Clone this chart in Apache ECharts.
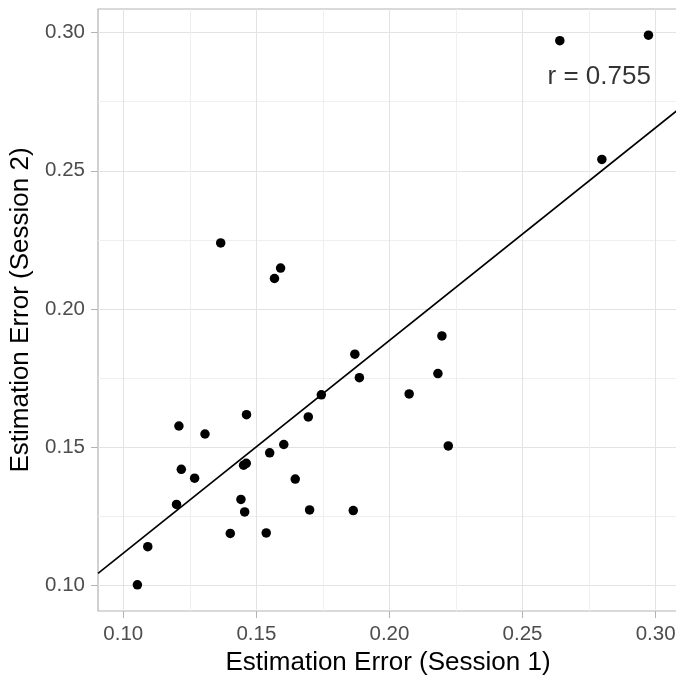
<!DOCTYPE html>
<html>
<head>
<meta charset="utf-8">
<script src="https://cdn.jsdelivr.net/npm/echarts@6/dist/echarts.min.js"></script>
<style>
html,body{margin:0;padding:0;background:#fff;}
#chart{width:676px;height:677px;}
</style>
</head>
<body>
<div id="chart"></div>
<script>
// Session 1 (x) and Session 2 (y) estimation errors
const session1 = [0.1053,0.1092,0.1200,0.1209,0.1218,0.1268,0.1307,0.1366,0.1402,0.1442,0.1456,0.1452,0.1462,0.1463,0.1537,0.1550,0.1568,0.1591,0.1603,0.1646,0.1695,0.1700,0.1744,0.1864,0.1870,0.1887,0.2074,0.2182,0.2197,0.2221,0.2640,0.2798,0.2973];
const session2 = [0.1001,0.1139,0.1292,0.1576,0.1419,0.1387,0.1547,0.2239,0.1187,0.1310,0.1265,0.1434,0.1441,0.1617,0.1189,0.1479,0.2110,0.2148,0.1509,0.1384,0.1609,0.1272,0.1689,0.1270,0.1836,0.1751,0.1692,0.1766,0.1902,0.1504,0.2971,0.2541,0.2991];
// fitted regression line
const fitIntercept = 0.03454;
const fitSlope = 0.7702;
const rLabel = 'r = 0.755';
const rLabelPos = [0.2788, 0.2840];
// axis ranges and ticks
const xRange = [0.0905, 0.3084];
const yRange = [0.09062, 0.30858];
const xTicks = [0.10, 0.15, 0.20, 0.25, 0.30];
const xMinor = [0.125, 0.175, 0.225, 0.275];
const yTicks = [0.10, 0.15, 0.20, 0.25, 0.30];
const yMinor = [0.125, 0.175, 0.225, 0.275];
const xTitle = 'Estimation Error (Session 1)';
const yTitle = 'Estimation Error (Session 2)';

const FONT = '"Liberation Sans", Arial, Helvetica, sans-serif';
const points = session1.map((x, i) => [x, session2[i]]);
const fitLine = xRange.map(x => [x, fitIntercept + fitSlope * x]);

const chart = echarts.init(document.getElementById('chart'), null, {renderer: 'canvas'});
const majorAxisX = {
  type: 'value', min: xRange[0], max: xRange[1], gridIndex: 0, position: 'bottom',
  name: xTitle, nameLocation: 'middle', nameGap: 37,
  nameTextStyle: {fontFamily: FONT, fontSize: 26, color: '#000'},
  axisLine: {show: false},
  axisTick: {show: true, length: 7, lineStyle: {color: '#b3b3b3', width: 1}, customValues: xTicks},
  axisLabel: {show: true, margin: 13, fontFamily: FONT, fontSize: 20.5, color: '#4d4d4d', customValues: xTicks,
    formatter: v => v.toFixed(2)},
  splitLine: {show: true, lineStyle: {color: '#e3e3e3', width: 1}}
};
const minorAxisX = {
  type: 'value', min: xRange[0], max: xRange[1], gridIndex: 0, position: 'bottom',
  axisLine: {show: false},
  axisTick: {show: false, customValues: xMinor},
  axisLabel: {show: false, customValues: xMinor},
  splitLine: {show: true, lineStyle: {color: '#efefef', width: 1}}
};
const majorAxisY = {
  type: 'value', min: yRange[0], max: yRange[1], gridIndex: 0, position: 'left',
  name: yTitle, nameLocation: 'middle', nameGap: 60, nameRotate: 90,
  nameTextStyle: {fontFamily: FONT, fontSize: 26, color: '#000'},
  axisLine: {show: false},
  axisTick: {show: true, length: 7, lineStyle: {color: '#b3b3b3', width: 1}, customValues: yTicks},
  axisLabel: {show: true, margin: 13, fontFamily: FONT, fontSize: 20.5, color: '#4d4d4d', customValues: yTicks,
    formatter: v => v.toFixed(2)},
  splitLine: {show: true, lineStyle: {color: '#e3e3e3', width: 1}}
};
const minorAxisY = {
  type: 'value', min: yRange[0], max: yRange[1], gridIndex: 0, position: 'left',
  axisLine: {show: false},
  axisTick: {show: false, customValues: yMinor},
  axisLabel: {show: false, customValues: yMinor},
  splitLine: {show: true, lineStyle: {color: '#efefef', width: 1}}
};

chart.setOption({
  backgroundColor: '#fff',
  animation: false,
  grid: {left: 98, top: 9, width: 580, height: 602, show: true, borderColor: '#b3b3b3', borderWidth: 1.2,
    backgroundColor: 'transparent', containLabel: false, outerBoundsMode: 'none'},
  xAxis: [minorAxisX, majorAxisX],
  yAxis: [minorAxisY, majorAxisY],
  series: [
    {
      type: 'line', xAxisIndex: 1, yAxisIndex: 1, data: fitLine, showSymbol: false, symbol: 'none',
      lineStyle: {color: '#000', width: 1.7}, clip: true, z: 3
    },
    {
      type: 'scatter', xAxisIndex: 1, yAxisIndex: 1, data: points, symbol: 'circle', symbolSize: 9.5,
      itemStyle: {color: '#000', opacity: 1}, z: 4
    },
    {
      type: 'scatter', xAxisIndex: 1, yAxisIndex: 1, data: [rLabelPos], symbolSize: 0, silent: true,
      label: {show: true, position: 'inside', formatter: rLabel, fontFamily: FONT, fontSize: 26, color: '#000'},
      z: 5
    }
  ]
});
</script>
</body>
</html>
